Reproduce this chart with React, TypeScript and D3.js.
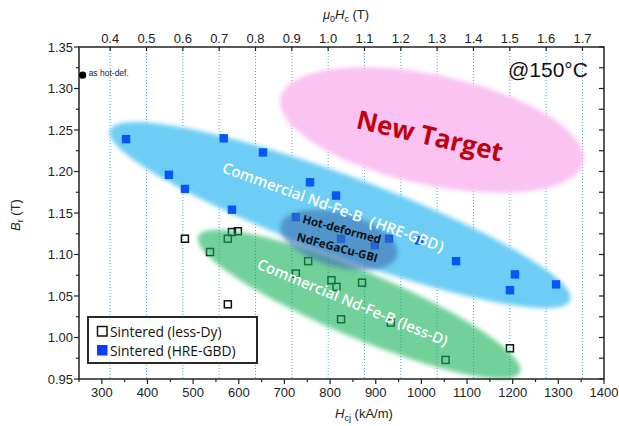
import React, { useRef, useEffect } from 'react';
import * as d3 from 'd3';

// axis ticks
const hcjTicks = [300, 400, 500, 600, 700, 800, 900, 1000, 1100, 1200, 1300, 1400];
const brTicks = [0.95, 1.0, 1.05, 1.1, 1.15, 1.2, 1.25, 1.3, 1.35];
const mu0HcTicks = [0.4, 0.5, 0.6, 0.7, 0.8, 0.9, 1.0, 1.1, 1.2, 1.3, 1.4, 1.5, 1.6, 1.7];

// Sintered (HRE-GBD)
const hreHcj = [353, 447, 482, 567, 653, 585, 756, 813, 725, 824, 898, 929, 995, 1076, 1205, 1194, 1295];
const hreBr = [1.239, 1.196, 1.179, 1.240, 1.223, 1.154, 1.187, 1.171, 1.145, 1.119, 1.111, 1.119, 1.117, 1.092, 1.076, 1.057, 1.064];

// Sintered (less-Dy)
const lessHcj = [482, 537, 576, 585, 598, 752, 725, 803, 814, 870, 576, 824, 933, 1194, 1053];
const lessBr = [1.119, 1.103, 1.119, 1.127, 1.128, 1.092, 1.077, 1.069, 1.061, 1.066, 1.040, 1.022, 1.018, 0.987, 0.973];

// as hot-deformed
const hotDefHcj = [258];
const hotDefBr = [1.316];

// regions: ends of the long axis [Hcj, Br]
const targetEnds = [[691, 1.289], [1355, 1.211]];
const hreEnds = [[318, 1.250], [1326, 1.045]];
const lessEnds = [[511, 1.122], [1216, 0.958]];
const gbiEnds = [[692, 1.136], [947, 1.099]];

function App() {
  const svgRef = useRef(null);

  useEffect(() => {
    const width = 619;
    const height = 426;
    const left = 79, right = 604, top = 47, bottom = 379;
    const mu0 = 4 * Math.PI * 1e-4; // T per kA/m

    const x = d3.scaleLinear().domain([250, 1400]).range([left, right]);
    const xTop = d3.scaleLinear().domain([250 * mu0, 1400 * mu0]).range([left, right]);
    const y = d3.scaleLinear().domain([0.95, 1.35]).range([bottom, top]);

    const svg = d3.select(svgRef.current)
      .attr('viewBox', [0, 0, width, height])
      .style('font-family', '"Liberation Sans", Arial, sans-serif');
    svg.selectAll('*').remove();

    svg.append('rect').attr('width', width).attr('height', height).attr('fill', '#fff');

    svg.append('defs').append('filter')
      .attr('id', 'soft').attr('x', '-10%').attr('y', '-30%').attr('width', '120%').attr('height', '160%')
      .append('feGaussianBlur').attr('stdDeviation', 2.2);

    // dotted lines at the upper-axis ticks
    svg.append('g').selectAll('line')
      .data(mu0HcTicks)
      .join('line')
        .attr('x1', d => xTop(d)).attr('x2', d => xTop(d))
        .attr('y1', top).attr('y2', bottom)
        .attr('stroke', '#4aa6e0').attr('stroke-width', 1)
        .attr('stroke-dasharray', '1,2');

    const blob = (ends, hw, fill, op) => {
      const [[h1, b1], [h2, b2]] = ends;
      const x1 = x(h1), y1 = y(b1), x2 = x(h2), y2 = y(b2);
      const cx = (x1 + x2) / 2, cy = (y1 + y2) / 2;
      const ang = Math.atan2(y2 - y1, x2 - x1) * 180 / Math.PI;
      svg.append('ellipse')
        .attr('cx', cx).attr('cy', cy)
        .attr('rx', Math.hypot(x2 - x1, y2 - y1) / 2).attr('ry', hw)
        .attr('transform', `rotate(${ang} ${cx} ${cy})`)
        .attr('fill', fill).attr('opacity', op)
        .attr('filter', 'url(#soft)');
    };

    blob(targetEnds, 55, '#fac3f2', 1);
    blob(hreEnds, 40, '#6dcdf4', 1);

    const hre = hreHcj.map((h, i) => [h, hreBr[i]]);
    const less = lessHcj.map((h, i) => [h, lessBr[i]]);

    svg.append('g').selectAll('rect')
      .data(hre)
      .join('rect')
        .attr('x', d => x(d[0]) - 4.2).attr('y', d => y(d[1]) - 4.2)
        .attr('width', 8.4).attr('height', 8.4)
        .attr('fill', '#0757f5');

    svg.append('g').selectAll('rect')
      .data(less)
      .join('rect')
        .attr('x', d => x(d[0]) - 3.5).attr('y', d => y(d[1]) - 3.5)
        .attr('width', 7).attr('height', 7)
        .attr('fill', 'none').attr('stroke', '#111').attr('stroke-width', 1.5);

    blob(lessEnds, 33, '#17b258', 0.6);
    blob(gbiEnds, 27, '#3c71b2', 0.6);

    // region labels
    const label = (h, b, ang, txt, size, weight, fill) => {
      svg.append('text')
        .attr('transform', `translate(${x(h)},${y(b)}) rotate(${ang})`)
        .attr('text-anchor', 'middle').attr('dominant-baseline', 'central')
        .style('font-family', '"Open Sans", sans-serif')
        .style('font-size', size + 'px').style('font-weight', weight)
        .attr('fill', fill)
        .text(txt);
    };
    label(1019, 1.244, 13, 'New Target', 26, 700, '#c00010');
    label(817, 1.156, 20, 'Commercial Nd-Fe-B（HRE-GBD）', 15, 600, '#fff');
    label(850, 1.043, 22.5, 'Commercial Nd-Fe-B (less-D)', 15, 600, '#fff');
    label(826, 1.131, 15, 'Hot-deformed', 11.5, 700, '#111');
    label(816, 1.109, 15, 'NdFeGaCu-GBI', 11.5, 700, '#111');

    // axes
    const ax = svg.append('g').attr('stroke', '#222').attr('fill', 'none');
    ax.append('rect').attr('x', left).attr('y', top).attr('width', right - left).attr('height', bottom - top)
      .attr('stroke-width', 1.5);

    const brMinor = d3.range(0.95, 1.3501, 0.025);
    const hcjMinor = d3.range(250, 1400.1, 50);

    ax.selectAll('.yl').data(brMinor).join('line')
      .attr('x1', left).attr('x2', (d, i) => left - (i % 2 === 0 ? 5 : 3))
      .attr('y1', d => y(d)).attr('y2', d => y(d)).attr('stroke-width', 1.2);
    ax.selectAll('.yr').data(brMinor).join('line')
      .attr('x1', right).attr('x2', right - 5)
      .attr('y1', d => y(d)).attr('y2', d => y(d)).attr('stroke-width', 1.2);
    ax.selectAll('.xb').data(hcjMinor).join('line')
      .attr('x1', d => x(d)).attr('x2', d => x(d))
      .attr('y1', bottom).attr('y2', (d, i) => bottom + (i % 2 === 1 ? 5 : 3)).attr('stroke-width', 1.2);
    ax.selectAll('.xt').data(mu0HcTicks).join('line')
      .attr('x1', d => xTop(d)).attr('x2', d => xTop(d))
      .attr('y1', top).attr('y2', top + 4).attr('stroke-width', 1.2);

    const tl = svg.append('g').attr('fill', '#222').style('font-size', '13px');
    tl.selectAll('.ty').data(brTicks).join('text')
      .attr('x', left - 6).attr('y', d => y(d)).attr('dy', '0.36em')
      .attr('text-anchor', 'end').text(d => d3.format('.2f')(d));
    tl.selectAll('.tb').data(hcjTicks).join('text')
      .attr('x', d => x(d)).attr('y', bottom + 18)
      .attr('text-anchor', 'middle').text(d => d);
    tl.selectAll('.tt').data(mu0HcTicks).join('text')
      .attr('x', d => xTop(d)).attr('y', top - 4)
      .attr('text-anchor', 'middle').text(d => d3.format('.1f')(d));

    // axis titles
    const bt = svg.append('text').attr('x', 364).attr('y', 418).attr('text-anchor', 'middle')
      .attr('fill', '#222').style('font-size', '13px');
    bt.append('tspan').style('font-style', 'italic').text('H');
    bt.append('tspan').attr('dy', 3).style('font-size', '9px').text('cj');
    bt.append('tspan').attr('dy', -3).text(' (kA/m)');

    const tt = svg.append('text').attr('x', 346).attr('y', 19).attr('text-anchor', 'middle')
      .attr('fill', '#222').style('font-size', '13px');
    tt.append('tspan').style('font-style', 'italic').text('μ');
    tt.append('tspan').attr('dy', 3).style('font-size', '9px').text('0');
    tt.append('tspan').attr('dy', -3).style('font-style', 'italic').text('H');
    tt.append('tspan').attr('dy', 3).style('font-size', '9px').text('c');
    tt.append('tspan').attr('dy', -3).text(' (T)');

    const yt = svg.append('text').attr('transform', 'translate(20,215) rotate(-90)')
      .attr('text-anchor', 'middle').attr('fill', '#222').style('font-size', '13px');
    yt.append('tspan').style('font-style', 'italic').text('B');
    yt.append('tspan').attr('dy', 3).style('font-size', '9px').text('r');
    yt.append('tspan').attr('dy', -3).text(' (T)');

    // as hot-def.
    const hd = hotDefHcj.map((h, i) => [h, hotDefBr[i]]);
    svg.append('g').selectAll('circle').data(hd).join('circle')
      .attr('cx', d => x(d[0])).attr('cy', d => y(d[1])).attr('r', 3.6).attr('fill', '#000');
    svg.append('g').selectAll('text').data(hd).join('text')
      .attr('x', d => x(d[0]) + 6).attr('y', d => y(d[1]) + 1).attr('fill', '#222')
      .style('font-size', '8.5px').text('as hot-def.');

    svg.append('text').attr('x', 508).attr('y', 77).attr('fill', '#111')
      .style('font-size', '21px').text('@150°C');

    // legend
    const lg = svg.append('g').attr('transform', 'translate(88,317)');
    lg.append('rect').attr('width', 169).attr('height', 46)
      .attr('fill', '#fff').attr('stroke', '#111').attr('stroke-width', 1.8);
    lg.append('rect').attr('x', 9.5).attr('y', 9.5).attr('width', 9.5).attr('height', 9.5)
      .attr('fill', 'none').attr('stroke', '#111').attr('stroke-width', 1.5);
    lg.append('rect').attr('x', 9).attr('y', 28).attr('width', 10.5).attr('height', 10.5)
      .attr('fill', '#0a3cff');
    const lt = lg.append('g').attr('fill', '#111')
      .style('font-family', '"Open Sans", sans-serif').style('font-size', '13.8px');
    lt.append('text').attr('x', 22).attr('y', 19.5).text('Sintered (less-Dy)');
    lt.append('text').attr('x', 22).attr('y', 39).text('Sintered (HRE-GBD)');
  }, []);

  return (
    <svg
      ref={svgRef}
      width={619}
      height={426}
      style={{ position: 'absolute', left: 0, top: 0 }}
    />
  );
}

export default App;
